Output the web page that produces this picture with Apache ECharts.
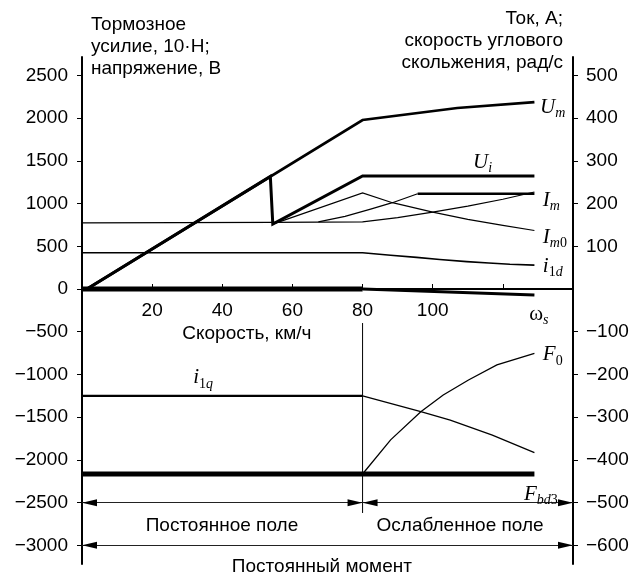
<!DOCTYPE html>
<html><head><meta charset="utf-8">
<script src="https://cdn.jsdelivr.net/npm/echarts@6/dist/echarts.min.js"></script>
<style>html,body{margin:0;padding:0;background:#fff}#c{width:636px;height:575px}</style>
</head><body><div id="c"></div>
<script>
// ---- tick values ----
const xStep = 20;
const xLabels = [20, 40, 60, 80, 100];
const leftTicks = [-3000, -2500, -2000, -1500, -1000, -500, 0, 500, 1000, 1500, 2000, 2500];
const rightTicks = [-600, -500, -400, -300, -200, -100, 100, 200, 300, 400, 500];
// ---- left axis series (10·N; V) : [speed km/h, value] ----
const U_m = [[1.4, 0], [80, 1978], [107, 2118], [129, 2188]];
const U_i = [[1.4, 0], [53.7, 1318], [54.4, 761], [80, 1322], [129, 1322]];
const F_bd3 = [[0, -2165], [129, -2165]];
const F_0 = [[80, -2165], [88, -1765], [96.6, -1436], [103, -1240], [110.2, -1065], [118.3, -889], [129, -753]];
const split80 = [[80, -398], [80, -2621]];
// ---- right axis series (A; rad/s) ----
const I_m = [[0, 155], [54.4, 156], [80, 157], [90, 167], [100, 180], [110, 194], [120, 210], [129, 227]];
const I_m0 = [[54.4, 152], [80, 225], [88.5, 202], [100, 180], [110, 163], [120, 149], [129, 137]];
const I_mRise = [[67.4, 157], [75, 170], [82.3, 187], [88.5, 202], [95.7, 223]];
const I_mFlat = [[95.7, 223], [129, 223]];
const i_1d = [[0, 85], [80, 85], [88, 79], [95.4, 74], [102, 69], [109.7, 64], [116, 61], [122, 58], [129, 56]];
const w_sLow = [[0, 0], [80, 0]];
const w_sHigh = [[80, 0], [129, -14]];
const i_1qFlat = [[0, -250], [80, -250]];
const i_1qHigh = [[80, -250], [96.6, -287], [105, -307], [117, -342], [129, -383]];
// ---- range arrows (left axis units) ----
const arrowRows = [[[0, -2500], [80, -2500]], [[80, -2500], [140, -2500]], [[0, -3000], [140, -3000]]];
// ---- annotation texts: [text, x, yLeft] ----
const seriesLabels = [
  ['{a|U}{s|m}', 130.6, 2130],
  ['{a|U}{s|i}', 111.5, 1486],
  ['{a|I}{s|m}', 131.4, 1041],
  ['{a|I}{s|m}{n|0}', 131.4, 608],
  ['{a|i}{n|1}{s|d}', 131.4, 269],
  ['{g|ω}{s|s}', 127.5, -300],
  ['{a|F}{n|0}', 131.4, -772],
  ['{a|i}{n|1}{s|q}', 31.7, -1041],
  ['{a|F}{s|bd}{n|3}', 126, -2400]
];
const plainLabels = [
  ['Постоянное поле', 39.9, -2774],
  ['Ослабленное поле', 107.8, -2774],
  ['Постоянный момент', 68.4, -3253],
  ['Скорость, км/ч', 47.0, -527]
];
const leftTitle = 'Тормозное\nусилие, 10·Н;\nнапряжение, В';
const rightTitle = 'Ток, А;\nскорость углового\nскольжения, рад/с';

const SANS = '"Liberation Sans", Arial, Helvetica, sans-serif';
const SERIF = '"Liberation Serif", "Times New Roman", serif';
const LMIN = -3218, LMAX = 2715;
const GRID = { left: 82, right: 63, top: 57, bottom: 11 };
const H = 575;
const minus = v => String(v).replace('-', '\u2212');

function ln(data, yIdx, w) {
  return { type: 'line', data: data, yAxisIndex: yIdx, symbol: 'none', silent: true, animation: false,
    clip: false, lineStyle: { width: w, color: '#000', cap: 'butt', join: 'miter' }, z: 3 };
}
// arrowheads: a tip at each end of each range row
const HEAD = [7, 15];
const heads = [];
arrowRows.forEach(r => {
  heads.push({ value: r[0], symbolRotate: 90, symbolOffset: [HEAD[1] / 2, 0] });
  heads.push({ value: r[1], symbolRotate: -90, symbolOffset: [-HEAD[1] / 2, 0] });
});
// pixel height of grid and position of value 0 -> offset to lift the x axis onto zero
const gridH = H - GRID.top - GRID.bottom;
const zeroFromBottom = (0 - LMIN) / (LMAX - LMIN) * gridH;

const chart = echarts.init(document.getElementById('c'), null, { renderer: 'canvas' });
const yCommon = {
  type: 'value', splitLine: { show: false },
  axisLine: { show: true, onZero: false, lineStyle: { color: '#000', width: 2 } },
  axisTick: { show: true, length: 5, lineStyle: { color: '#000', width: 1 } }
};
chart.setOption({
  animation: false,
  grid: Object.assign({ containLabel: false, outerBoundsMode: 'none' }, GRID),
  xAxis: {
    type: 'value', min: 0, max: 140, interval: xStep, splitLine: { show: false },
    position: 'bottom', offset: -zeroFromBottom,
    axisLine: { onZero: false, lineStyle: { color: '#000', width: 2 } },
    axisTick: { inside: true, length: 5, lineStyle: { color: '#000', width: 1 } },
    axisLabel: { showMinLabel: true, showMaxLabel: true, hideOverlap: false,
      formatter: v => (xLabels.indexOf(v) >= 0 ? String(v) : ''),
      margin: 12, color: '#000', fontSize: 19, fontFamily: SANS }
  },
  yAxis: [
    Object.assign({}, yCommon, { min: LMIN, max: LMAX, position: 'left',
      axisTick: Object.assign({}, yCommon.axisTick, { customValues: leftTicks }),
      axisLabel: { customValues: leftTicks, formatter: minus, margin: 14, color: '#000', fontSize: 19, fontFamily: SANS } }),
    Object.assign({}, yCommon, { min: LMIN / 5, max: LMAX / 5, position: 'right',
      axisTick: Object.assign({}, yCommon.axisTick, { customValues: rightTicks }),
      axisLabel: { customValues: rightTicks, formatter: minus, margin: 13, color: '#000', fontSize: 19, fontFamily: SANS } })
  ],
  series: [
    ln(split80, 0, 1),
    ln(U_m, 0, 2.7),
    ln(U_i, 0, 3),
    ln(F_bd3, 0, 5),
    ln(F_0, 0, 1.3),
    ln(I_m, 1, 1.2),
    ln(I_m0, 1, 1.2),
    ln(I_mRise, 1, 1.2),
    ln(I_mFlat, 1, 2.5),
    ln(i_1d, 1, 1.6),
    ln(w_sLow, 1, 5),
    ln(w_sHigh, 1, 3),
    ln(i_1qFlat, 1, 2.2),
    ln(i_1qHigh, 1, 1.3),
    { type: 'lines', coordinateSystem: 'cartesian2d', xAxisIndex: 0, yAxisIndex: 0, silent: true, animation: false,
      data: arrowRows.map(c => ({ coords: c })), symbol: ['none', 'none'],
      lineStyle: { color: '#222', width: 1, opacity: 1 }, z: 4 },
    { type: 'scatter', xAxisIndex: 0, yAxisIndex: 0, silent: true, animation: false, clip: false,
      data: heads, symbol: 'triangle', symbolSize: HEAD, itemStyle: { color: '#000', opacity: 1 }, z: 5 }
  ]
});

const RICH = {
  a: { fontFamily: SERIF, fontStyle: 'italic', fontSize: 21, fill: '#000' },
  g: { fontFamily: SERIF, fontSize: 21, fill: '#000' },
  s: { fontFamily: SERIF, fontStyle: 'italic', fontSize: 14, fill: '#000', padding: [12, 0, 0, 0] },
  n: { fontFamily: SERIF, fontSize: 14, fill: '#000', padding: [12, 0, 0, 0] }
};
const px = (x, y) => chart.convertToPixel({ xAxisIndex: 0, yAxisIndex: 0 }, [x, y]);
const graphics = [];
seriesLabels.forEach(l => {
  const p = px(l[1], l[2]);
  graphics.push({ type: 'text', x: p[0], y: p[1], silent: true, z: 10,
    style: { text: l[0], rich: RICH, align: 'left', verticalAlign: 'middle', textAlign: 'left', textVerticalAlign: 'middle' } });
});
plainLabels.forEach(l => {
  const p = px(l[1], l[2]);
  graphics.push({ type: 'text', x: p[0], y: p[1], silent: true, z: 10,
    style: { text: l[0], fontSize: 19, fontFamily: SANS, fill: '#000', align: 'center', verticalAlign: 'middle', textAlign: 'center', textVerticalAlign: 'middle' } });
});
graphics.push({ type: 'text', x: 91, y: 14, silent: true, z: 10,
  style: { text: leftTitle, fontSize: 19, fontFamily: SANS, fill: '#000', lineHeight: 22, align: 'left', verticalAlign: 'top', textAlign: 'left', textVerticalAlign: 'top' } });
graphics.push({ type: 'text', x: 563, y: 8, silent: true, z: 10,
  style: { text: rightTitle, fontSize: 19, fontFamily: SANS, fill: '#000', lineHeight: 22, align: 'right', verticalAlign: 'top', textAlign: 'right', textVerticalAlign: 'top' } });
chart.setOption({ graphic: graphics });
</script>
</body></html>
